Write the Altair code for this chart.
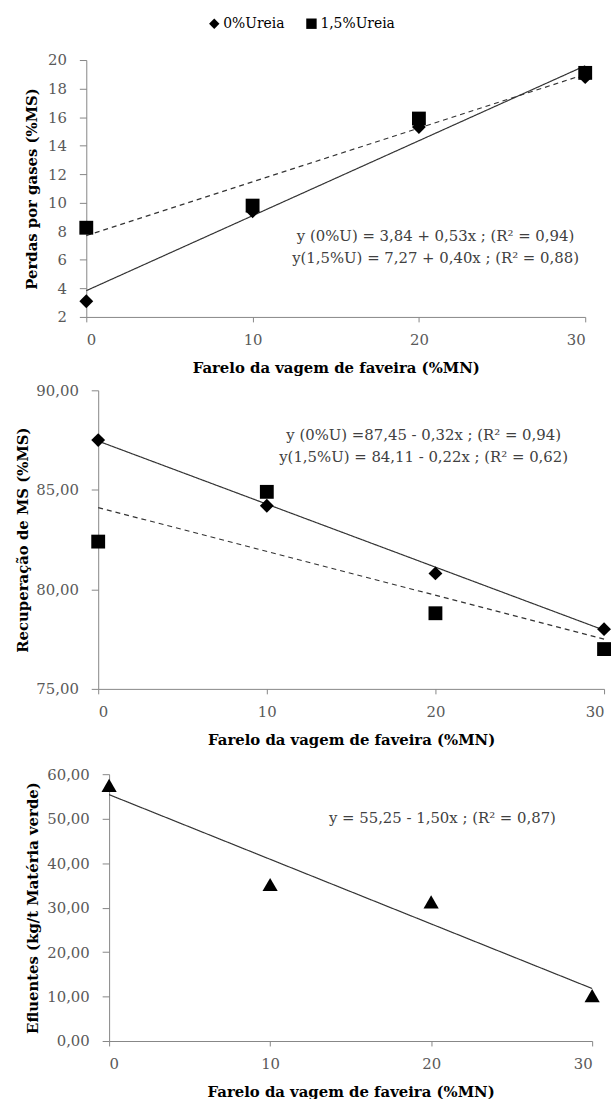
import altair as alt
import pandas as pd

FONT = "DejaVu Serif"
SER = ["0%Ureia", "1,5%Ureia"]

# ---- data ----
x_levels = [0, 10, 20, 30]
perdas_0 = [3.1, 9.4, 15.3, 18.8]
perdas_15 = [8.25, 9.8, 15.9, 19.1]
fit_x = [0, 30]
perdas_fit_0 = [3.84, 19.6]
perdas_fit_15 = [7.7, 19.0]

rec_0 = [87.5, 84.2, 80.8, 78.0]
rec_15 = [82.4, 84.9, 78.8, 77.0]
rec_fit_0 = [87.45, 77.95]
rec_fit_15 = [84.11, 77.5]

efl = [57.5, 35.2, 31.3, 10.2]
efl_fit = [55.4, 11.8]

eq1 = ["y (0%U) = 3,84 + 0,53x ; (R² = 0,94)", "y(1,5%U) = 7,27 + 0,40x ; (R² = 0,88)"]
eq1_x = [21.0, 21.0]
eq1_y = [7.7, 6.15]
eq2 = ["y (0%U) =87,45 - 0,32x ; (R² = 0,94)", "y(1,5%U) = 84,11 - 0,22x ; (R² = 0,62)"]
eq2_x = [19.3, 19.3]
eq2_y = [87.75, 86.65]
eq3 = ["y  = 55,25 - 1,50x ; (R² = 0,87)"]
eq3_x = [20.7]
eq3_y = [50.2]

XTITLE = "Farelo da vagem de faveira (%MN)"

pts1 = pd.DataFrame({"x": x_levels * 2, "y": perdas_0 + perdas_15,
                     "serie": [SER[0]] * 4 + [SER[1]] * 4})
pts2 = pd.DataFrame({"x": x_levels * 2, "y": rec_0 + rec_15,
                     "serie": [SER[0]] * 4 + [SER[1]] * 4})
fit1a = pd.DataFrame({"x": fit_x, "y": perdas_fit_0})
fit1b = pd.DataFrame({"x": fit_x, "y": perdas_fit_15})
fit2a = pd.DataFrame({"x": fit_x, "y": rec_fit_0})
fit2b = pd.DataFrame({"x": fit_x, "y": rec_fit_15})
pts3 = pd.DataFrame({"x": x_levels, "y": efl})
fit3 = pd.DataFrame({"x": fit_x, "y": efl_fit})
ann1 = pd.DataFrame({"x": eq1_x, "y": eq1_y, "t": eq1})
ann2 = pd.DataFrame({"x": eq2_x, "y": eq2_y, "t": eq2})
ann3 = pd.DataFrame({"x": eq3_x, "y": eq3_y, "t": eq3})

comma2 = "replace(format(datum.value, '.2f'), '.', ',')"


def xenc():
    return alt.X("x:Q", scale=alt.Scale(domain=[0, 30], nice=False, zero=False),
                 axis=alt.Axis(values=[0, 10, 20, 30], title=XTITLE, tickSize=5,
                               labelPadding=11, titlePadding=13, labelOverlap=False))


def yaxis(title, values, expr=None, tp=8):
    kw = dict(values=values, title=title, tickSize=7, labelPadding=13, titlePadding=tp,
              labelOverlap=False)
    if expr:
        kw["labelExpr"] = expr
    return alt.Axis(**kw)


def panel(pts, fits, ann, ydom, yax, w, h, legend=None, single=False):
    y = alt.Y("y:Q", scale=alt.Scale(domain=ydom, nice=False, zero=False), axis=yax)
    x = xenc()
    layers = []
    dashes = [[1, 0], [5, 4]]
    for i, f in enumerate(fits):
        layers.append(alt.Chart(f).mark_line(color="#333333", strokeWidth=1.2,
                                             strokeDash=dashes[i]).encode(x=x, y=y))
    if single:
        layers.append(alt.Chart(pts).mark_point(shape="triangle-up", filled=True, color="black",
                                                opacity=1, size=235).encode(x=x, y=y))
    else:
        layers.append(alt.Chart(pts).mark_point(filled=True, color="black", opacity=1,
                                                size=195).encode(
            x=x, y=y,
            shape=alt.Shape("serie:N", scale=alt.Scale(domain=SER, range=["diamond", "square"]),
                            legend=legend)))
    layers.append(alt.Chart(ann).mark_text(font=FONT, fontSize=15, color="#404040",
                                           align="center", baseline="middle").encode(
        x=x, y=y, text="t:N"))
    return alt.layer(*layers).properties(width=w, height=h)


def spacer(w, h):
    return alt.Chart(pd.DataFrame({"v": [0]})).mark_point(opacity=0).encode(
        x=alt.X("v:Q", axis=None), y=alt.Y("v:Q", axis=None)).properties(width=w, height=h)


leg = alt.Legend(orient="none", legendX=209, legendY=-44, direction="horizontal", title=None,
                 labelFont=FONT, labelFontSize=14, labelColor="#000000", symbolSize=110,
                 symbolFillColor="black", symbolStrokeColor="black",
                 labelOffset=2, columnPadding=18)

p1 = panel(pts1, [fit1a, fit1b], ann1, [2, 20],
           yaxis("Perdas por gases (%MS)", list(range(2, 21, 2))), 503, 259, legend=leg)
p2 = panel(pts2, [fit2a, fit2b], ann2, [75, 90],
           yaxis("Recuperação de MS (%MS)", [75, 80, 85, 90], comma2, tp=5), 510, 301,
           legend=None)
p3 = panel(pts3, [fit3], ann3, [0, 60],
           yaxis("Efluentes (kg/t Matéria verde)", [0, 10, 20, 30, 40, 50, 60], comma2, tp=6),
           487, 269, single=True)

row1 = alt.hconcat(spacer(24, 326), p1, spacing=0)
row2 = alt.hconcat(spacer(16, 380), p2, spacing=0)
row3 = alt.hconcat(spacer(26, 330), p3, spacing=0)

chart = alt.vconcat(row1, row2, row3, spacing=0).resolve_scale(
    shape="independent"
).properties(
    padding={"left": 0, "top": 12, "right": 0, "bottom": 0}
).configure_view(stroke=None).configure_axis(
    grid=False, domainColor="#868686", tickColor="#868686", labelFont=FONT, labelFontSize=15,
    labelColor="#595959", titleFont=FONT, titleFontSize=15, titleFontWeight="bold",
    titleColor="#000000"
).configure_legend(labelFont=FONT, labelFontSize=14, labelColor="#000000")

chart.save("out.html", embed_options={"renderer": "svg", "actions": False})
